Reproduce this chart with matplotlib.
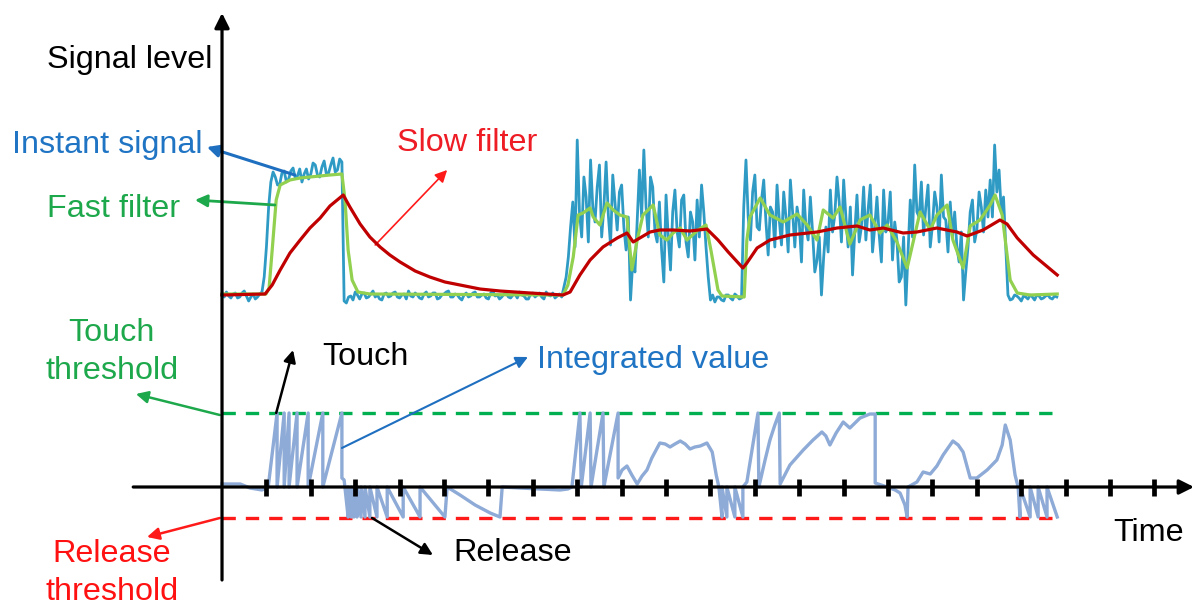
import numpy as np
import matplotlib
matplotlib.use("Agg")
import matplotlib.pyplot as plt

plt.rcParams['font.family'] = ['Liberation Sans', 'DejaVu Sans']

# time axis: one tick per unit, signal levels in arbitrary units
tick_times = np.arange(1, 22)
touch_threshold = 7.4
release_threshold = -3.1
t_end = 18.8

# instant signal, sampled every 0.05 time units
sample_step = 0.05
instant_signal = [
    # idle, then first touch
    19.2, 19.0, 19.5, 19.1, 18.9, 19.3, 19.4, 18.9, 19.0, 19.4,
    19.6, 19.1, 18.6, 19.0, 19.3, 18.8, 19.0, 19.3, 19.5, 21.0,
    24.0, 28.0, 30.5, 31.5,
    31.0, 30.2, 30.3, 31.4, 31.6, 30.5, 30.8, 31.6, 31.9, 30.9,
    31.1, 31.8, 30.5, 31.3, 31.8, 30.8, 31.3, 32.4, 32.2, 31.2,
    31.0, 32.0, 32.6, 31.3, 31.4, 32.2, 32.9, 31.5, 31.7, 32.8,
    32.5, 18.6,
    # idle
    18.4, 19.0, 19.1, 18.7, 19.5, 19.2, 18.8, 19.3, 19.4, 18.9,
    19.0, 19.3, 19.6, 19.0, 19.2, 18.8, 18.7, 19.3, 19.4, 19.0,
    19.1, 19.4, 19.5, 19.0, 18.9, 19.2, 19.3, 18.8, 19.6, 19.1,
    19.0, 19.4, 19.2, 18.9, 18.8, 19.3, 19.5, 19.0, 19.1, 19.4,
    19.4, 18.8, 18.9, 19.2, 19.3, 19.5, 19.6, 19.0, 19.0, 19.3,
    19.2, 18.9, 18.7, 19.2, 19.4, 19.0, 19.1, 19.4, 19.5, 19.0,
    19.0, 19.2, 19.3, 18.9, 18.8, 19.4, 19.6, 19.1, 19.2, 18.8,
    19.0, 19.3, 19.4, 19.0, 18.9, 19.2, 19.3, 18.9, 19.5, 19.2,
    19.1, 18.8, 18.8, 19.3, 19.4, 19.0, 19.2, 19.4, 19.0, 18.8,
    19.5, 19.2, 19.1, 19.4, 18.9, 19.1,
    # noisy touch
    19.3, 19.0, 20.0, 21.0, 23.0, 26.0,
    28.5, 24.0, 34.7, 27.5, 25.0, 31.0, 29.0, 24.5, 32.7, 28.0,
    26.5, 30.0, 32.2, 25.0, 28.0, 32.5, 27.2, 24.2, 31.2, 28.5,
    25.7, 29.5, 30.2, 26.0, 23.7, 27.0, 18.7, 22.5, 21.5, 26.5,
    31.7, 27.0, 33.7, 28.0, 25.0, 31.0, 30.0, 25.5, 24.5, 28.5,
    23.7, 20.5, 29.2, 25.0, 21.7, 27.5, 29.7, 25.5, 24.0, 28.7,
    29.2, 24.5, 23.0, 27.5, 26.5, 22.7, 28.7, 25.0, 30.2, 27.5,
    24.0, 21.0,
    # short release
    18.7, 19.2, 18.5, 19.0, 19.0, 18.7, 18.6, 19.2, 19.2, 18.9,
    18.7, 19.3, 19.1, 18.8, 18.9, 28.0,
    # long noisy touch
    32.7, 27.0, 24.7, 29.5, 31.2, 26.0, 25.7, 28.7, 30.7, 26.5,
    23.2, 28.0, 27.5, 24.0, 30.2, 26.7, 24.2, 29.5, 27.0, 23.5,
    30.7, 27.5, 24.0, 28.0, 26.5, 22.5, 29.7, 26.0, 24.7, 29.0,
    25.5, 21.5, 22.7, 25.0, 19.2, 23.0, 26.0, 23.5, 29.7, 25.5,
    27.2, 31.0, 28.5, 24.5, 30.7, 27.0, 24.0, 28.0, 21.2, 25.5,
    29.2, 24.5, 26.0, 30.0, 24.7, 27.7, 30.2, 23.5, 26.0, 29.0,
    25.2, 22.5, 29.7, 25.5, 26.5, 29.5, 22.7, 26.5, 24.7, 20.5,
    21.0, 25.0, 18.2, 23.5, 28.7, 25.0, 32.2, 27.5, 27.0, 30.5,
    25.2, 28.0, 30.2, 24.0, 26.2, 29.5, 28.0, 24.5, 31.2, 27.0,
    26.7, 23.5, 28.5, 25.0, 27.5, 24.0, 22.5, 25.5, 18.7, 21.5,
    24.0, 27.5, 28.7, 24.5, 25.7, 29.5, 28.0, 25.5, 29.7, 27.0,
    30.7, 27.0, 34.2, 29.5, 31.7, 27.5, 29.0, 24.0,
    # idle
    19.2, 18.7, 18.8, 19.2, 19.1, 18.9, 18.6, 19.1, 19.0, 18.8,
    19.2, 19.0, 18.7, 19.2, 19.1, 18.8, 18.9, 19.1, 19.2, 18.9,
    18.8, 19.1, 19.0,
]

fast_t = [0.00, 0.99, 1.06, 1.13, 1.22, 1.31, 1.53, 1.76, 1.98, 2.21, 2.43, 2.70,
          2.77, 2.84, 2.93, 3.06, 3.33, 7.68, 7.79, 7.91, 8.02, 8.13, 8.29, 8.36,
          8.51, 8.67, 8.81, 8.96, 9.12, 9.23, 9.35, 9.48, 9.71, 9.86, 10.02, 10.16,
          10.32, 10.47, 10.72, 10.90, 11.01, 11.17, 11.26, 11.76, 11.82, 11.89,
          12.12, 12.34, 12.64, 12.95, 13.18, 13.40, 13.54, 13.76, 13.92, 14.14,
          14.37, 14.59, 14.82, 14.98, 15.20, 15.43, 15.56, 15.72, 15.95, 16.10,
          16.33, 16.46, 16.69, 16.85, 17.07, 17.30, 17.41, 17.57, 17.75, 17.91,
          18.20, 18.81]
fast_filter = [19.3, 19.3, 19.9, 23.7, 28.7, 30.2, 30.7, 30.9, 31.0, 31.1, 31.2, 31.3,
               28.7, 23.7, 20.7, 19.5, 19.3, 19.2, 20.2, 23.0, 27.2, 27.4, 27.9, 27.0,
               26.2, 28.4, 27.7, 27.2, 27.0, 21.7, 24.7, 27.2, 28.2, 25.2, 24.7, 25.4,
               25.9, 24.7, 25.7, 26.2, 23.7, 19.7, 19.1, 19.0, 24.7, 27.0,
               28.9, 27.2, 26.5, 27.3, 26.2, 24.7, 27.7, 26.9, 28.0, 24.3,
               26.7, 27.2, 25.4, 26.2, 24.5, 21.9, 24.4, 27.5, 25.7, 27.2,
               28.2, 24.7, 21.9, 26.1, 26.7, 28.2, 29.2, 27.2, 20.7, 19.4,
               19.2, 19.3]

slow_t = [0.00, 0.97, 1.13, 1.31, 1.53, 1.76, 1.98, 2.21, 2.43, 2.73, 2.88, 3.11,
          3.33, 3.56, 3.78, 4.01, 4.35, 4.68, 5.02, 5.36, 5.81, 6.26, 6.94, 7.68,
          7.84, 8.06, 8.29, 8.58, 8.90, 9.12, 9.26, 9.41, 9.64, 9.86, 10.16, 10.54,
          10.92, 11.17, 11.40, 11.73, 11.82, 12.05, 12.34, 12.79, 13.40, 13.85,
          14.30, 14.59, 14.89, 15.34, 15.65, 16.10, 16.55, 16.78, 17.14, 17.52,
          17.68, 17.91, 18.27, 18.54, 18.81]
slow_filter = [19.2, 19.3, 20.2, 21.7, 23.4, 24.7, 25.9, 26.9, 28.1, 29.2, 28.0, 26.3,
               25.0, 24.0, 23.2, 22.5, 21.6, 21.0, 20.5, 20.2, 19.8, 19.6, 19.4, 19.2,
               19.5, 21.2, 22.7, 24.0, 24.9, 25.4, 24.5, 24.9, 25.5, 25.7, 25.7, 25.6,
               25.8, 24.7, 23.5, 21.9, 22.4, 23.9, 24.7, 25.2, 25.5, 25.9,
               26.1, 25.7, 25.9, 25.4, 25.5, 25.9, 25.5, 25.1, 25.7, 26.7,
               26.3, 24.9, 23.2, 22.2, 21.2]

integ_t = [0.00, 0.41, 0.63, 0.90, 1.04,
           1.24, 1.24, 1.40, 1.40, 1.51, 1.51, 1.69, 1.69, 1.94, 1.94, 2.27, 2.27,
           2.70, 2.70, 2.75,
           2.84, 2.84, 2.91, 2.91, 2.97, 2.97, 3.04, 3.04, 3.13, 3.13, 3.22, 3.22,
           3.33, 3.33, 3.49, 3.49, 3.72, 3.72, 4.08, 4.08, 4.46, 4.46, 5.02, 5.07,
           5.36, 5.70, 6.04, 6.26, 6.31, 6.71, 7.16, 7.61, 7.79, 7.88,
           8.06, 8.09, 8.29, 8.31, 8.58, 8.60, 8.92, 8.92,
           9.01, 9.12, 9.23, 9.35, 9.46, 9.57, 9.68, 9.86, 9.98, 10.09, 10.20,
           10.32, 10.43, 10.54, 10.65, 10.77, 10.92, 11.04, 11.13, 11.19,
           11.26, 11.26, 11.37, 11.37, 11.55, 11.55, 11.73, 11.73, 11.82,
           12.07, 12.09, 12.23, 12.34, 12.45, 12.55, 12.57, 12.79, 13.09, 13.31,
           13.51, 13.60, 13.69, 13.83, 13.99, 14.14, 14.37, 14.59, 14.71, 14.71,
           14.98, 15.16, 15.27, 15.38, 15.43, 15.45, 15.65, 15.79, 15.95, 16.10,
           16.24, 16.46, 16.58, 16.69, 16.85, 17.00, 17.23, 17.45, 17.57, 17.64,
           17.75, 17.86, 17.93,
           17.97, 17.97, 18.20, 18.20, 18.38, 18.38, 18.58, 18.58, 18.81]
integrated = [0.3, 0.3, -0.1, -0.3, 0.0,
              7.4, 0.0, 7.4, 0.0, 7.4, 0.0, 7.4, 0.0, 7.4, 0.0, 7.4, 0.0,
              7.4, 0.9, 0.7,
              -3.0, 0.0, -3.0, 0.0, -3.0, 0.0, -3.0, 0.0, -3.0, 0.0, -3.0, 0.0,
              -3.0, 0.0, -3.0, 0.0, -3.0, 0.0, -3.0, 0.0, -3.0, 0.0, -3.0, 0.0,
              -0.8, -1.8, -2.6, -3.0, 0.0, -0.1, -0.2, -0.3, -0.2, 0.0,
              7.4, 0.0, 7.4, 0.0, 7.4, 0.0, 7.4, 0.9,
              1.7, 2.1, 1.2, 0.3, 1.1, 1.7, 2.9, 4.4, 4.3, 4.0, 4.3,
              4.6, 4.3, 3.8, 4.0, 4.1, 4.4, 3.5, 1.2, 0.0,
              -3.0, 0.0, -3.0, 0.0, -3.0, 0.0, -3.0, 0.0, 0.5,
              7.4, 0.0, 2.7, 4.7, 6.2, 7.4, 0.3, 2.2, 3.7, 4.7,
              5.5, 5.1, 4.2, 5.4, 6.5, 5.9, 6.9, 7.3, 7.3, 0.4,
              0.0, -0.3, -0.6, -1.8, -3.0, 0.0, 0.5, 1.5, 1.3, 2.1,
              3.2, 4.6, 4.2, 3.5, 0.9, 0.9, 1.7, 2.7, 4.2, 6.2,
              4.7, 1.2, 0.0,
              -3.0, 0.0, -3.0, 0.0, -3.0, 0.0, -3.0, 0.0, -3.0]

# labels: (text, x, y, colour, ha)
labels = [
    ("Signal level", -0.22, 42.7, "black", "right"),
    ("Instant signal", -0.43, 34.2, "#1f74c4", "right"),
    ("Fast filter", -0.95, 27.8, "#1ea84c", "right"),
    ("Slow filter", 3.94, 34.4, "#ee1c24", "left"),
    ("Touch\nthreshold", -2.48, 13.5, "#1ea84c", "center"),
    ("Touch", 2.25, 13.0, "black", "left"),
    ("Integrated value", 7.09, 12.7, "#1f74c4", "left"),
    ("Release", 5.20, -6.6, "black", "left"),
    ("Release\nthreshold", -2.48, -8.6, "#ff1111", "center"),
    ("Time", 20.07, -4.6, "black", "left"),
]

# pointer arrows: (tail, head, colour, width)
pointers = [
    ((1.64, 31.2), (-0.34, 34.0), "#1f6fc0", 2.2),
    ((1.19, 28.2), (-0.61, 28.7), "#1ea84c", 2.0),
    ((3.45, 24.2), (5.07, 31.7), "#ff1a1a", 1.2),
    ((1.22, 7.4), (1.60, 13.7), "black", 1.8),
    ((2.70, 3.9), (6.89, 13.0), "#1f6fc0", 1.5),
    ((-0.05, 7.2), (-1.94, 9.3), "#1ea84c", 1.8),
    ((-0.05, -3.1), (-1.69, -5.0), "#ff1a1a", 1.8),
    ((3.38, -3.1), (4.75, -6.8), "black", 1.8),
]

fig = plt.figure(figsize=(11.94, 6.07), dpi=100)
ax = fig.add_axes([0, 0, 1, 1])
ax.set_xlim(-5.0, 21.89)
ax.set_ylim(-12.0, 48.7)
ax.axis("off")

t_inst = np.arange(len(instant_signal)) * sample_step
ax.plot(t_inst, instant_signal, color="#2f9bc5", lw=2.0, zorder=2)
ax.plot(fast_t, fast_filter, color="#92d050", lw=2.3, zorder=3)
ax.plot(slow_t, slow_filter, color="#c00000", lw=2.3, zorder=4)

ax.hlines(touch_threshold, 0, t_end, colors="#00b050", lw=2.4,
          linestyles=(0, (4, 3)), zorder=2)
ax.hlines(release_threshold, 0, t_end, colors="#ff1a1a", lw=2.4,
          linestyles=(0, (4, 3)), zorder=2)
ax.plot(integ_t, integrated, color="#8eaad6", lw=2.4, zorder=3)

# axes with arrow heads
ax.annotate("", xy=(21.89, 0), xytext=(-2.0, 0),
            arrowprops=dict(arrowstyle="-|>", lw=2.3, color="black",
                            mutation_scale=22, shrinkA=0, shrinkB=0), zorder=5)
ax.annotate("", xy=(0, 47.4), xytext=(0, -9.3),
            arrowprops=dict(arrowstyle="-|>", lw=2.3, color="black",
                            mutation_scale=22, shrinkA=0, shrinkB=0), zorder=5)
ax.vlines(tick_times, -0.85, 0.85, colors="black", lw=3.4, zorder=5)

for text, x, y, colour, ha in labels:
    ax.text(x, y, text, color=colour, fontsize=23.3, ha=ha, va="center",
            multialignment="center", linespacing=1.38)

for tail, head, colour, width in pointers:
    ax.annotate("", xy=head, xytext=tail,
                arrowprops=dict(arrowstyle="-|>", lw=width, color=colour,
                                mutation_scale=18, shrinkA=0, shrinkB=0))

fig.savefig("out.png", dpi=100)
